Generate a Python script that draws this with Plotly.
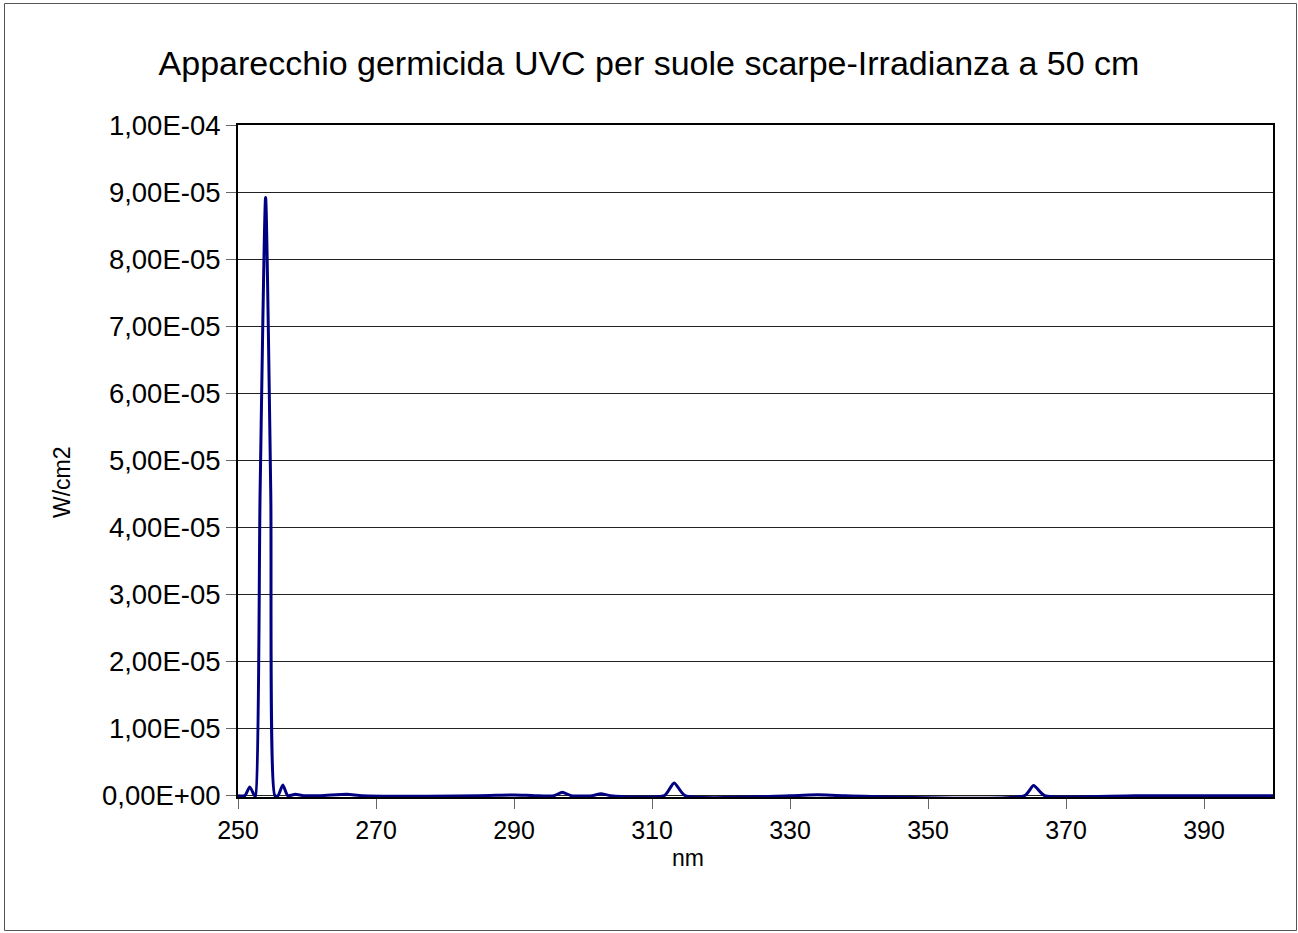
import plotly.graph_objects as go

# ---- data ----
wavelength_nm = [250.0, 251.0, 251.7, 252.4, 252.55, 253.2, 254.0, 254.75, 255.35, 255.8,
                 256.5, 257.2, 258.3, 259.5, 262.0, 265.8, 268.0, 285.0, 290.0, 293.0,
                 295.8, 297.0, 298.3, 301.3, 302.6, 304.0, 311.8, 313.2, 314.8, 330.0,
                 334.0, 338.0, 364.0, 365.3, 366.9, 380.0, 400.0]
irradiance_w_cm2 = [0.0, 0.0, 1.3e-6, 0.0, 0.0, 4.5e-5, 8.92e-5, 4.5e-5, 0.0, 0.0,
                    1.6e-6, 0.0, 2.0e-7, 0.0, 0.0, 2.0e-7, 0.0, 0.0, 1.0e-7, 0.0,
                    0.0, 5.0e-7, 0.0, 0.0, 3.0e-7, 0.0, 0.0, 1.9e-6, 0.0, 0.0,
                    1.5e-7, 0.0, 0.0, 1.5e-6, 0.0, 0.0, 0.0]

x_tick_vals = [250, 270, 290, 310, 330, 350, 370, 390]
y_tick_vals = [0, 1e-5, 2e-5, 3e-5, 4e-5, 5e-5, 6e-5, 7e-5, 8e-5, 9e-5, 1e-4]
y_tick_text = ["0,00E+00", "1,00E-05", "2,00E-05", "3,00E-05", "4,00E-05", "5,00E-05",
               "6,00E-05", "7,00E-05", "8,00E-05", "9,00E-05", "1,00E-04"]

title_text = "Apparecchio germicida UVC per suole scarpe-Irradianza a 50 cm"
x_title = "nm"
y_title = "W/cm2"

# ---- layout geometry (pixels) ----
W, H = 1298, 933
L, R, T, B = 238, 1273, 125, 797
pw, ph = R - L, B - T

def px_x(p):
    return (p - L) / pw

def px_y(p):
    return (B - p) / ph

FONT = "Liberation Sans, Arial, sans-serif"

fig = go.Figure()
fig.add_trace(go.Scatter(
    x=wavelength_nm, y=irradiance_w_cm2, mode="lines",
    line=dict(color="#000080", width=3, shape="spline", smoothing=0.6),
    hoverinfo="x+y", showlegend=False,
))

fig.update_layout(
    width=W, height=H,
    margin=dict(l=L, r=W - R, t=T, b=H - B, autoexpand=False),
    paper_bgcolor="white", plot_bgcolor="white",
    font=dict(family=FONT, color="black"),
    title=dict(text=title_text, x=0.5, xanchor="center", y=1 - 63 / H, yanchor="middle",
               font=dict(family=FONT, size=34, color="black")),
    showlegend=False,
)

fig.update_xaxes(
    range=[250, 400], tickmode="array", tickvals=x_tick_vals,
    ticks="outside", ticklen=10, tickwidth=1, tickcolor="#666666",
    tickfont=dict(family=FONT, size=25, color="black"),
    showline=True, linecolor="black", linewidth=2, mirror=True,
    showgrid=False, zeroline=False, layer="below traces",
)
fig.update_yaxes(
    range=[-2e-7, 1e-4], tickmode="array", tickvals=y_tick_vals, ticktext=y_tick_text,
    ticks="outside", ticklen=10, tickwidth=1, tickcolor="#666666",
    tickfont=dict(family=FONT, size=27.5, color="black"),
    showline=True, linecolor="black", linewidth=2, mirror=True,
    showgrid=True, gridcolor="#222222", gridwidth=1, zeroline=False, layer="below traces",
)

fig.add_annotation(text=y_title, x=px_x(62), y=px_y(482), xref="paper", yref="paper",
                   showarrow=False, textangle=-90, xanchor="center", yanchor="middle",
                   font=dict(family=FONT, size=23, color="black"))
fig.add_annotation(text=x_title, x=px_x(688), y=px_y(858), xref="paper", yref="paper",
                   showarrow=False, xanchor="center", yanchor="middle",
                   font=dict(family=FONT, size=23, color="black"))

fig.add_shape(type="rect", xref="paper", yref="paper",
              x0=px_x(4.5), x1=px_x(1296.5), y0=px_y(930.5), y1=px_y(3.5),
              line=dict(color="#555555", width=1), fillcolor="rgba(0,0,0,0)", layer="below")

fig.write_html("out.html", config={"displayModeBar": False},
               post_script="document.body.style.margin='0px';document.body.style.overflow='hidden';")
